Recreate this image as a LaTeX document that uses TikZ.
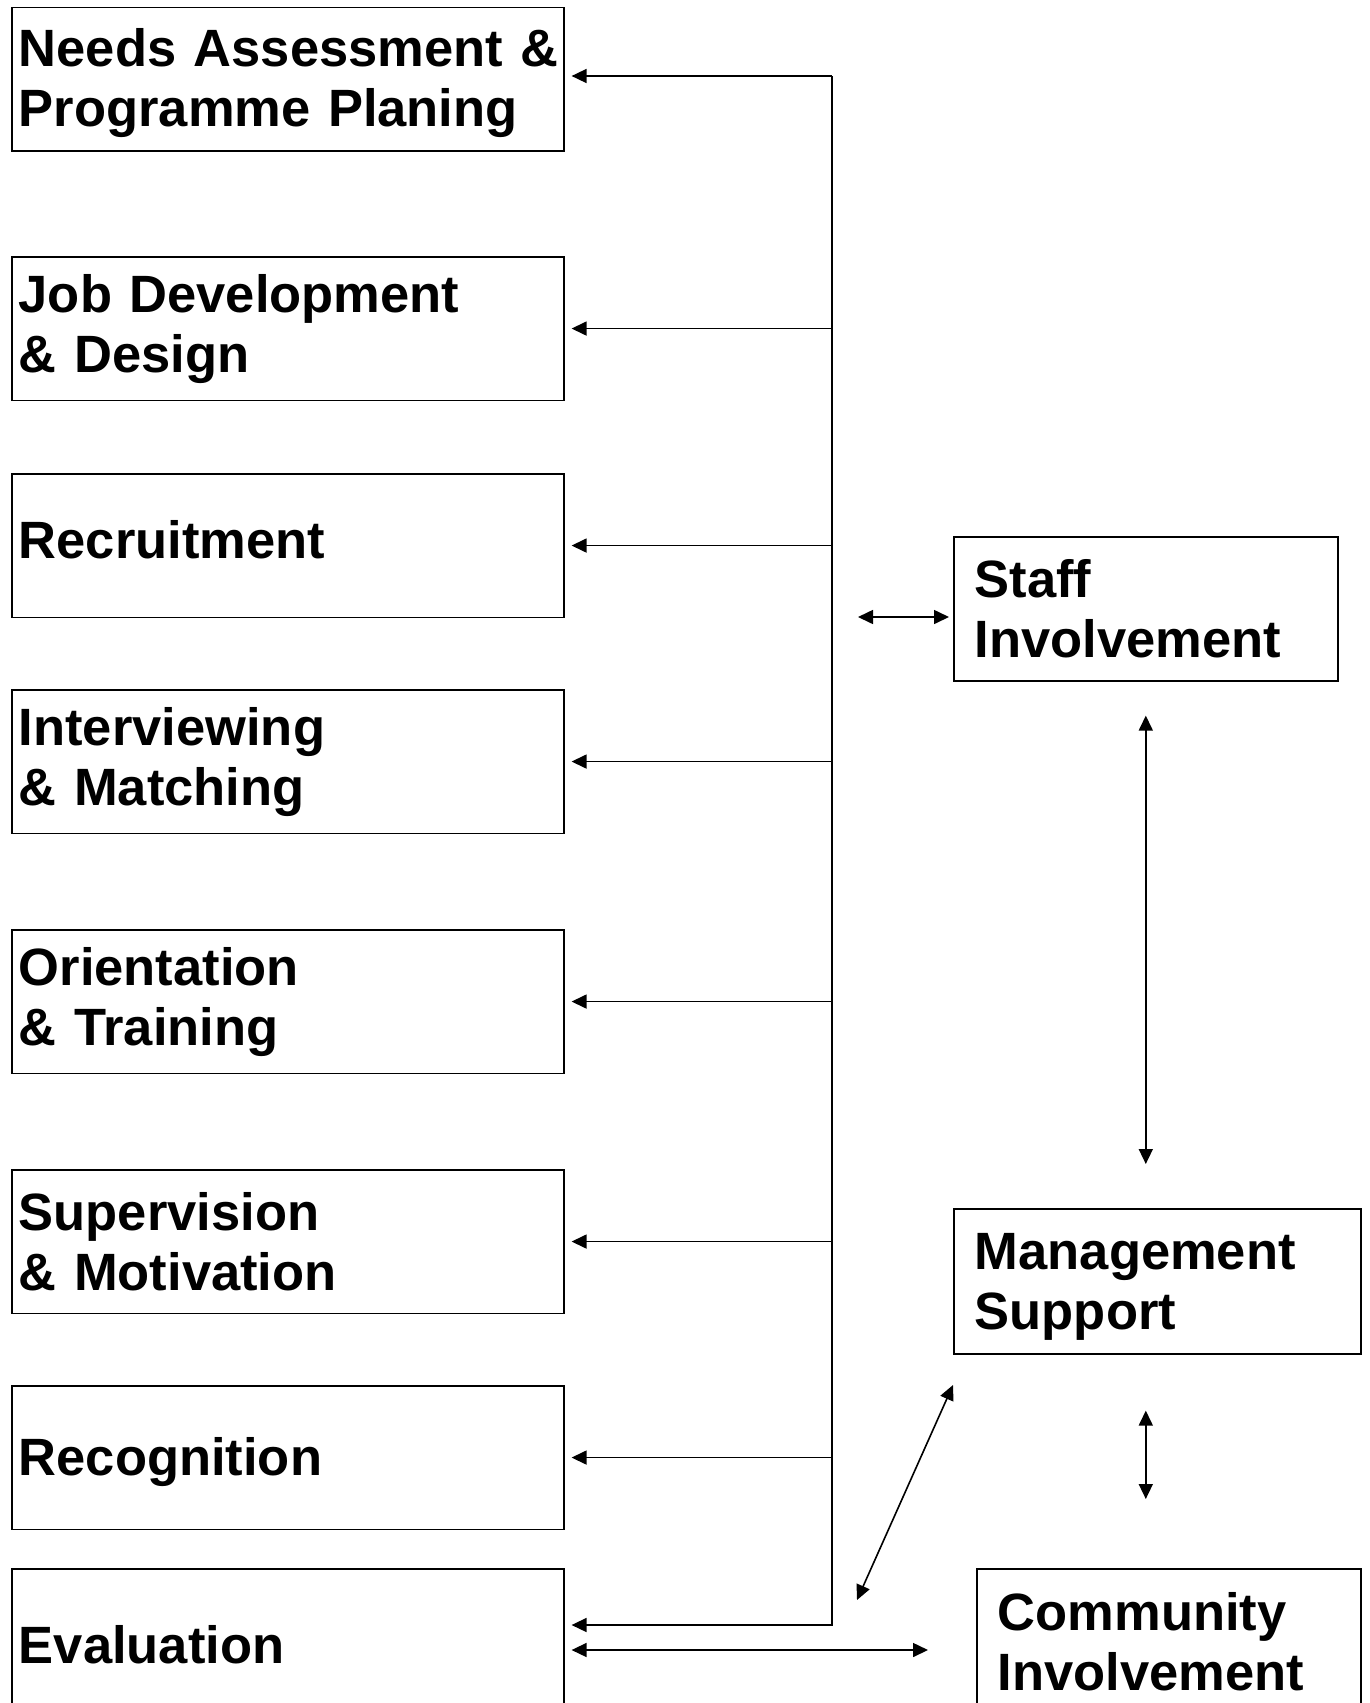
\documentclass[tikz,border=0pt]{standalone}
\usepackage{fontspec}
\setmainfont{Liberation Sans}
\usetikzlibrary{arrows.meta}
\newcommand{\uptop}[1]{\rule{0pt}{#1}}
\newcommand{\downbot}[1]{\rule[-#1]{0pt}{#1}}
\hbadness=10000 \hfuzz=20pt
\begin{document}
\begin{tikzpicture}[x=1pt,y=-1pt,
  line width=1.6pt,
  box/.style={draw, line width=1.6pt, rectangle, anchor=north west, inner ysep=0pt,
    align=left, font=\bfseries\fontsize{52.5}{60}\selectfont},
  lbox/.style={box, inner xsep=7pt, text width=538pt, minimum height=143.5pt},
  rbox/.style={box, inner xsep=21pt},
  tip/.tip={Triangle[length=15pt,width=14pt]},
  arr/.style={-tip, line width=1.6pt},
  dbl/.style={tip-tip, line width=1.6pt}]
\useasboundingbox (0,0) rectangle (1369,1703);

\node[lbox] (n1) at (11,6.5) {\uptop{46pt}\mbox{Needs Assessment \&}\\Programme Planing};
\node[lbox] (n2) at (11,256) {Job Development\\\& Design};
\node[lbox] (n3) at (11,473) {Recruitment\downbot{12pt}};
\node[lbox] (n4) at (11,689) {Interviewing\\\& Matching};
\node[lbox] (n5) at (11,929) {Orientation\\\& Training};
\node[lbox] (n6) at (11,1169) {Supervision\\\& Motivation};
\node[lbox] (n7) at (11,1385) {\uptop{46pt}Recognition};
\node[lbox, minimum height=152pt] (n8) at (11,1568) {Evaluation};

\node[rbox, text width=342pt, minimum height=144pt] (staff) at (953,536) {Staff\\Involvement};
\node[rbox, text width=365pt, minimum height=145pt] (mgmt) at (953,1208) {\uptop{48pt}Management\\Support};
\node[rbox, text width=342pt, minimum height=146pt] (comm) at (976,1568) {Community\\Involvement};

% bus
\coordinate (bt) at (832,76);
\coordinate (bb) at (832,1625);
\draw[arr, shorten >=7pt] (bt) -- (bt -| n1.east);
\draw[arr, shorten >=7pt] (bt) -- (bb) -- (bb -| n8.east);
\foreach \n in {n2,n3,n4,n5,n6,n7}
  \draw[arr, shorten >=7pt] (bt |- \n.east) -- (\n.east);

% staff involvement link
\coordinate (sl) at (858,617);
\draw[dbl, shorten >=4pt] (sl) -- (sl -| staff.west);

% staff <-> management
\draw[dbl, shorten <=34pt, shorten >=44pt] (staff.south) -- (staff.south |- mgmt.north);
% management <-> community
\draw[dbl, shorten <=56pt, shorten >=69pt] (staff.south |- mgmt.south) -- (staff.south |- comm.north);

% diagonal
\coordinate (d1) at (953,1385);
\coordinate (d2) at (857,1600);
\draw[dbl] (d2) -- (d1);

% evaluation <-> community
\coordinate (cr) at (928,1650);
\draw[dbl, shorten <=7pt] (cr -| n8.east) -- (cr);
\end{tikzpicture}
\end{document}
